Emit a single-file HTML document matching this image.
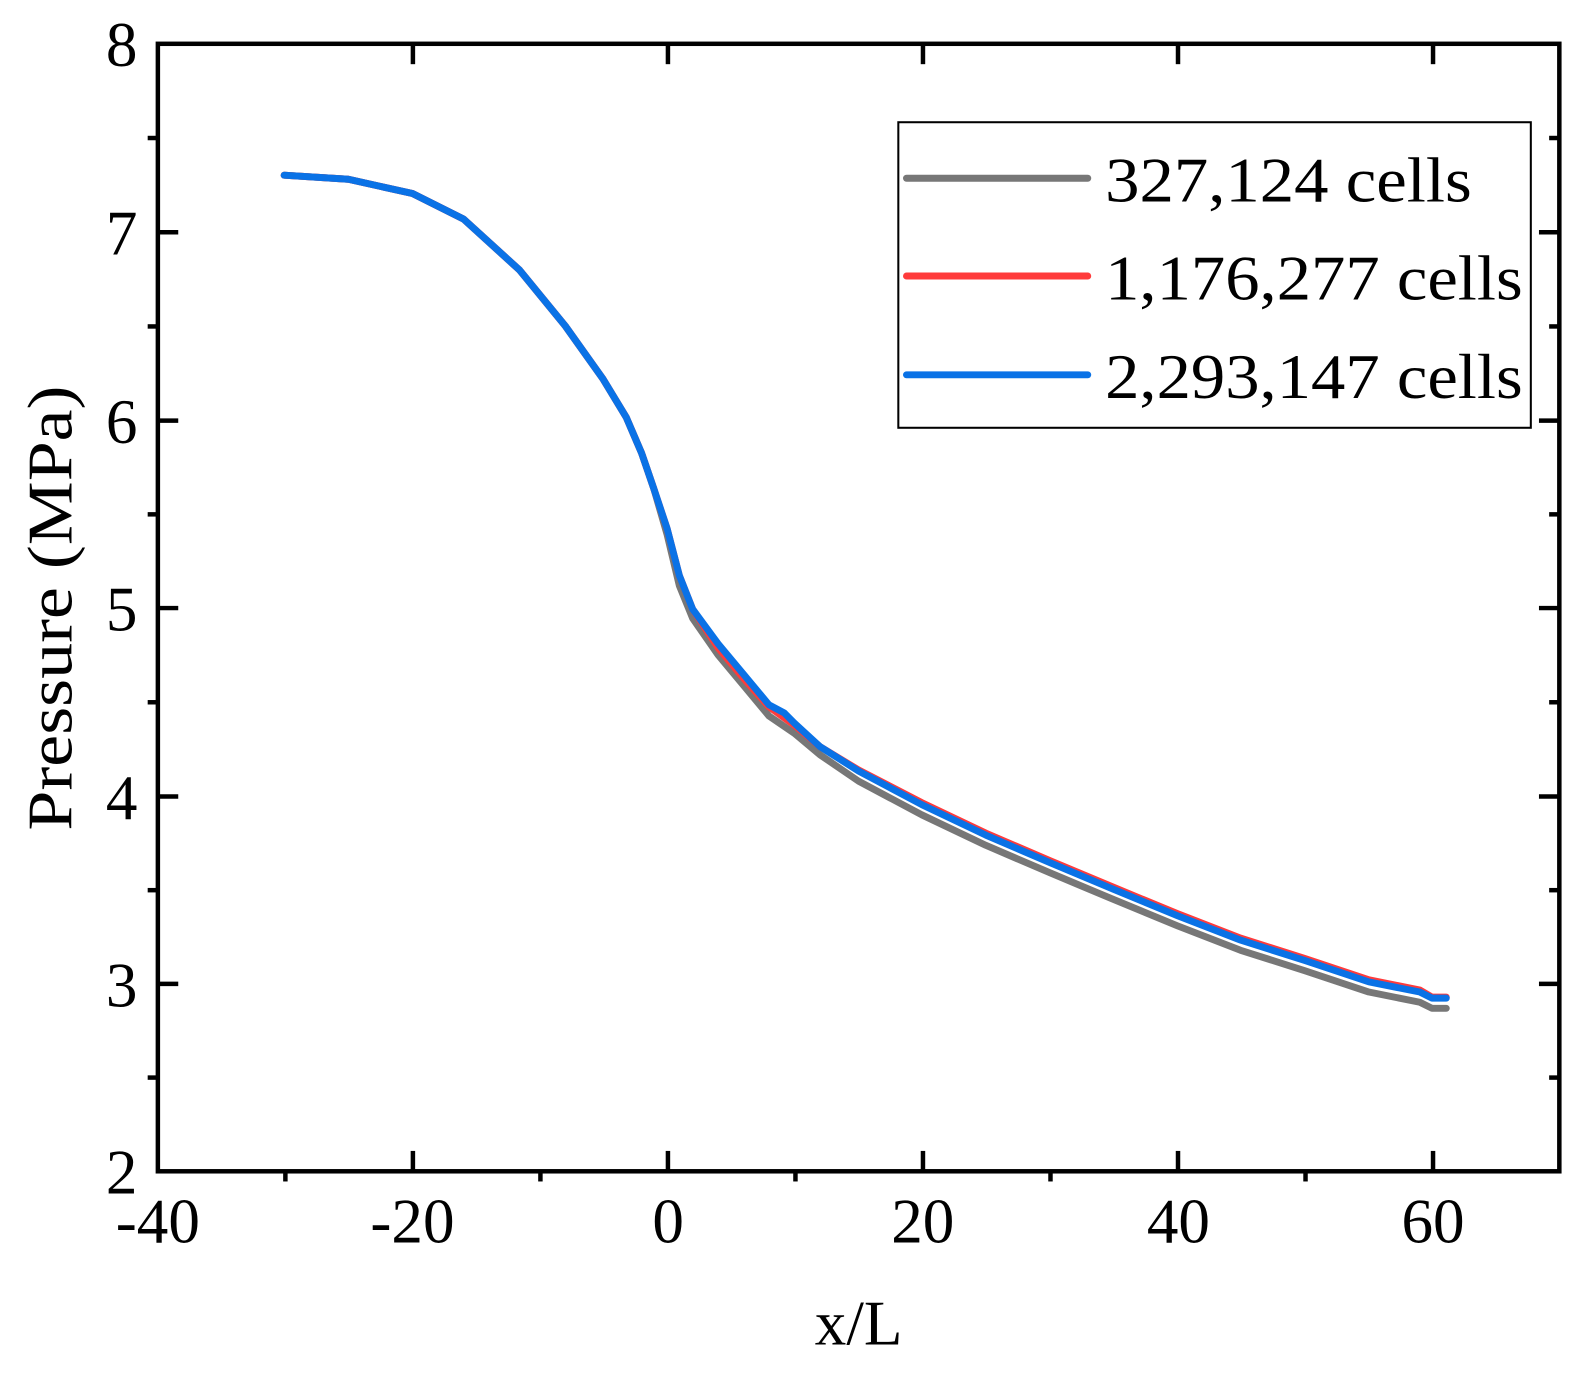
<!DOCTYPE html>
<html><head><meta charset="utf-8"><style>
html,body{margin:0;padding:0;background:#fff;}
svg{display:block;}
text{font-family:"Liberation Serif",serif;fill:#000;}
</style></head><body>
<svg width="1596" height="1375" viewBox="0 0 1567 1350" xmlns="http://www.w3.org/2000/svg">
<rect x="0" y="0" width="1567" height="1350" fill="#fff"/>
<!-- series -->
<polyline fill="none" stroke="#777" stroke-width="6.8" stroke-linejoin="round" stroke-linecap="round"
 points="279,172 342,176 405,190 455,215 510,265 555,320 592,372 615,410 630,445 642,480 655,525 667,575 680,607 705,643 730,673 755,703 780,720 805,741 843,767 905,800 968,830 1031,857 1093,883 1156,909 1218,933 1281,953 1344,974 1394,984 1406,990 1420,990"/>
<polyline fill="none" stroke="#ff3b3b" stroke-width="6.8" stroke-linejoin="round" stroke-linecap="round"
 points="279,172 342,176 405,190 455,215 510,265 555,320 592,372 615,410 630,445 642,480 655,519 667,565 680,598 705,636 730,666 755,694 780,712 805,733 843,756 905,788 968,818 1031,845 1093,871 1156,897 1218,921 1281,941 1344,962 1394,972 1406,979 1420,979"/>
<polyline fill="none" stroke="#0a72e6" stroke-width="6.8" stroke-linejoin="round" stroke-linecap="round"
 points="279,172 342,176 405,190 455,215 510,265 555,320 592,372 615,410 630,445 642,480 655,519 667,565 680,598 705,632 730,662 755,692 770,700 780,710 805,733 843,757 905,790 968,820 1031,847 1093,873 1156,899 1218,923 1281,943 1344,964 1394,974 1406,980 1420,980"/>
<!-- axes -->
<rect x="155" y="43" width="1376" height="1107" fill="none" stroke="#000" stroke-width="4.4"/>
<g stroke="#000" stroke-width="4.4">
<!-- x major -->
<line x1="405.4" y1="1150" x2="405.4" y2="1130"/><line x1="655.8" y1="1150" x2="655.8" y2="1130"/>
<line x1="906.2" y1="1150" x2="906.2" y2="1130"/><line x1="1156.6" y1="1150" x2="1156.6" y2="1130"/>
<line x1="1407" y1="1150" x2="1407" y2="1130"/>
<line x1="405.4" y1="43" x2="405.4" y2="63"/><line x1="655.8" y1="43" x2="655.8" y2="63"/>
<line x1="906.2" y1="43" x2="906.2" y2="63"/><line x1="1156.6" y1="43" x2="1156.6" y2="63"/>
<line x1="1407" y1="43" x2="1407" y2="63"/>
<!-- x minor -->
<line x1="280.2" y1="1150" x2="280.2" y2="1160"/><line x1="530.6" y1="1150" x2="530.6" y2="1160"/>
<line x1="781" y1="1150" x2="781" y2="1160"/><line x1="1031.4" y1="1150" x2="1031.4" y2="1160"/>
<line x1="1281.8" y1="1150" x2="1281.8" y2="1160"/>
<!-- y major -->
<line x1="155" y1="228" x2="175" y2="228"/><line x1="155" y1="413" x2="175" y2="413"/>
<line x1="155" y1="597" x2="175" y2="597"/><line x1="155" y1="782" x2="175" y2="782"/>
<line x1="155" y1="966" x2="175" y2="966"/>
<line x1="1531" y1="228" x2="1511" y2="228"/><line x1="1531" y1="413" x2="1511" y2="413"/>
<line x1="1531" y1="597" x2="1511" y2="597"/><line x1="1531" y1="782" x2="1511" y2="782"/>
<line x1="1531" y1="966" x2="1511" y2="966"/>
<!-- y minor -->
<line x1="155" y1="135.5" x2="145" y2="135.5"/><line x1="155" y1="320.5" x2="145" y2="320.5"/>
<line x1="155" y1="505" x2="145" y2="505"/><line x1="155" y1="689.5" x2="145" y2="689.5"/>
<line x1="155" y1="874" x2="145" y2="874"/><line x1="155" y1="1058" x2="145" y2="1058"/>
<line x1="1531" y1="135.5" x2="1521" y2="135.5"/><line x1="1531" y1="320.5" x2="1521" y2="320.5"/>
<line x1="1531" y1="505" x2="1521" y2="505"/><line x1="1531" y1="689.5" x2="1521" y2="689.5"/>
<line x1="1531" y1="874" x2="1521" y2="874"/><line x1="1531" y1="1058" x2="1521" y2="1058"/>
</g>
<!-- y labels -->
<g font-size="62" text-anchor="end">
<text x="135" y="65">8</text><text x="135" y="250">7</text><text x="135" y="435">6</text>
<text x="135" y="619">5</text><text x="135" y="804">4</text><text x="135" y="988">3</text>
<text x="135" y="1172">2</text>
</g>
<!-- x labels -->
<g font-size="62" text-anchor="middle">
<text x="155" y="1220">-40</text><text x="405" y="1220">-20</text><text x="656" y="1220">0</text>
<text x="906" y="1220">20</text><text x="1157" y="1220">40</text><text x="1407" y="1220">60</text>
</g>
<text x="843" y="1320" font-size="62" text-anchor="middle">x/L</text>
<text transform="translate(70,597) rotate(-90)" font-size="62" text-anchor="middle" textLength="437" lengthAdjust="spacingAndGlyphs">Pressure (MPa)</text>
<!-- legend -->
<rect x="882" y="120" width="621" height="300" fill="#fff" stroke="#000" stroke-width="2"/>
<line x1="890" y1="175" x2="1068" y2="175" stroke="#777" stroke-width="6.8" stroke-linecap="round"/>
<line x1="890" y1="271" x2="1068" y2="271" stroke="#ff3b3b" stroke-width="6.8" stroke-linecap="round"/>
<line x1="890" y1="368" x2="1068" y2="368" stroke="#0a72e6" stroke-width="6.8" stroke-linecap="round"/>
<g font-size="62">
<text x="1085" y="198" textLength="360" lengthAdjust="spacingAndGlyphs">327,124 cells</text>
<text x="1085" y="294" textLength="410" lengthAdjust="spacingAndGlyphs">1,176,277 cells</text>
<text x="1085" y="391" textLength="410" lengthAdjust="spacingAndGlyphs">2,293,147 cells</text>
</g>
</svg>
</body></html>
